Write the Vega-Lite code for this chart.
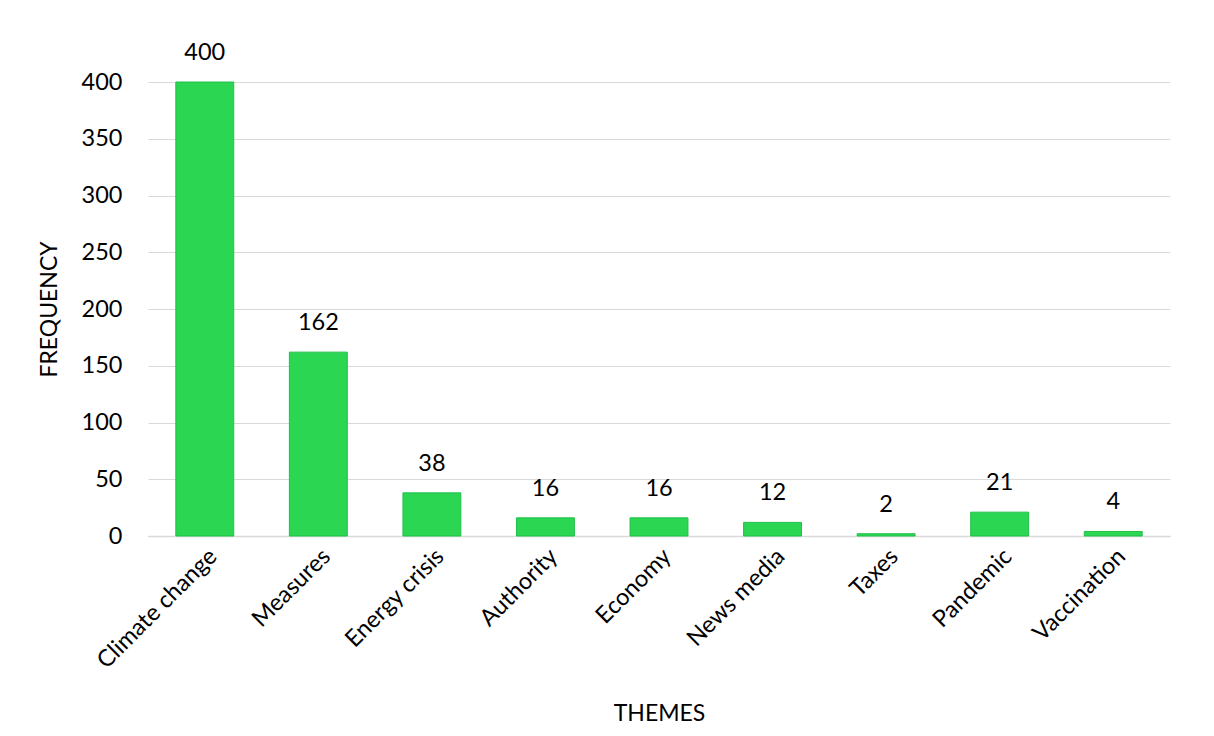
{
  "$schema": "https://vega.github.io/schema/vega-lite/v6.json",
  "width": 1022,
  "height": 454,
  "autosize": {"type": "none"},
  "padding": {"left": 148, "top": 82, "right": 44, "bottom": 200},
  "background": "white",
  "config": {
    "font": "Lato",
    "view": {"stroke": null},
    "axis": {"labelFont": "Lato", "titleFont": "Lato", "labelColor": "#000000", "titleColor": "#000000", "labelFontSize": 23.5, "titleFontSize": 23, "titleFontWeight": "normal"}
  },
  "data": {
    "values": [
      {"theme": "Climate change", "freq": 400},
      {"theme": "Measures", "freq": 162},
      {"theme": "Energy crisis", "freq": 38},
      {"theme": "Authority", "freq": 16},
      {"theme": "Economy", "freq": 16},
      {"theme": "News media", "freq": 12},
      {"theme": "Taxes", "freq": 2},
      {"theme": "Pandemic", "freq": 21},
      {"theme": "Vaccination", "freq": 4}
    ]
  },
  "encoding": {
    "x": {
      "field": "theme", "type": "nominal", "sort": null,
      "scale": {"paddingInner": 0.49, "paddingOuter": 0.245},
      "axis": {"title": "THEMES", "labelAngle": -45, "ticks": false, "domainColor": "#d9d9d9", "domainWidth": 1.5, "labelPadding": 8, "titlePadding": 30}
    },
    "y": {
      "field": "freq", "type": "quantitative",
      "scale": {"domain": [0, 400]},
      "axis": {"title": "FREQUENCY", "values": [0, 50, 100, 150, 200, 250, 300, 350, 400], "ticks": false, "domain": false, "gridColor": "#d9d9d9", "gridWidth": 1.2, "labelPadding": 26, "titlePadding": 20}
    }
  },
  "layer": [
    {"mark": {"type": "bar", "color": "#2bd653", "stroke": "#22c04a", "strokeWidth": 1}},
    {"mark": {"type": "text", "baseline": "bottom", "dy": -17, "fontSize": 23.5, "color": "#000000", "font": "Lato"}, "encoding": {"text": {"field": "freq", "type": "quantitative"}}}
  ]
}
